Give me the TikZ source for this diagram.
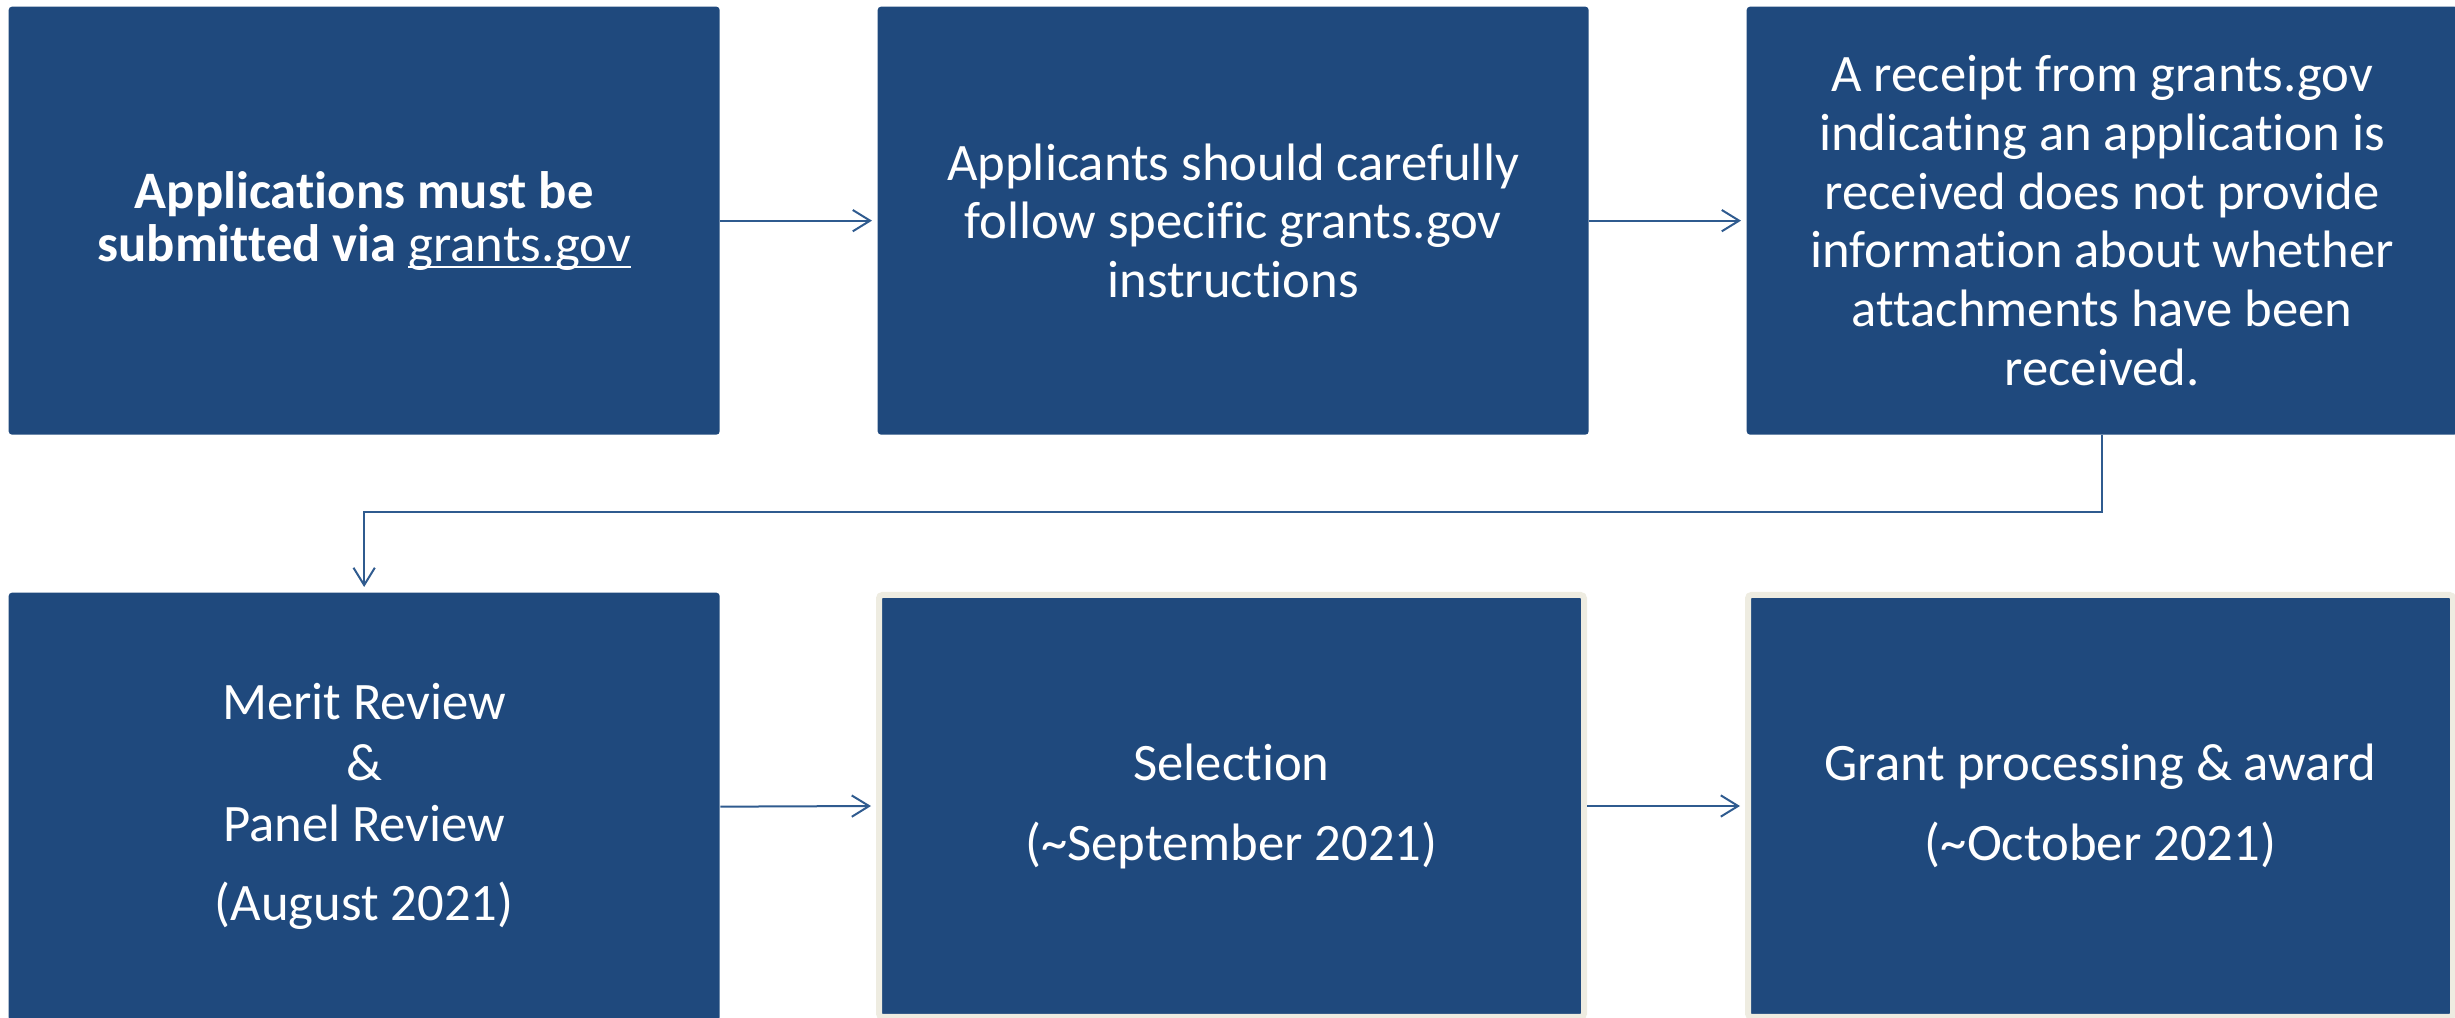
\documentclass[tikz,border=0pt]{standalone}
\usepackage{fontspec}
\setmainfont{Carlito}[Ligatures=NoCommon]
\usetikzlibrary{arrows.meta}
\definecolor{boxblue}{HTML}{1F497D}
\definecolor{boxedge}{HTML}{EEECE1}
\definecolor{connblue}{HTML}{2F5B8F}
\newcommand\ulink[1]{\setbox0\hbox{#1}\rlap{\rule[-2.2pt]{\wd0}{0.6pt}}#1}
\begin{document}
\begin{tikzpicture}[x=0.3pt,y=-0.3pt,
  stepbox/.style={fill=boxblue, text=white, rounded corners=1pt,
    minimum width=213.3pt, minimum height=128.4pt, align=center,
    inner sep=0pt, anchor=north west, font=\fontsize{15.8}{17.6}\selectfont},
  edgebox/.style={stepbox, draw=boxedge, line width=1.8pt,
    minimum width=211.5pt, minimum height=126.6pt},
  conn/.style={draw=connblue, line width=0.6pt,
    -{Straight Barb[length=5.2pt,width=6.4pt]}, shorten >=1.5pt}]
\useasboundingbox (0,0) rectangle (2455,1018);
\node[stepbox, font=\fontsize{15.8}{15.9}\selectfont] (b1) at (8,6)
  {\bfseries Applications must be\\\bfseries submitted via \mdseries\ulink{grants.gov}};
\node[stepbox] (b2) at (877,6)
  {Applicants should carefully\\follow specific grants.gov\\instructions};
\node[stepbox] (b3) at (1746,6)
  {A receipt from grants.gov\\indicating an application is\\received does not provide\\information about whether\\attachments have been\\received.};
\node[stepbox, font=\fontsize{15.8}{18.3}\selectfont] (b4) at (8,592)
  {Merit Review\\\&\\Panel Review\\[5.4pt](August 2021)};
\node[edgebox, font=\fontsize{15.8}{18.3}\selectfont] (b5) at (876,592)
  {Selection\\[5.7pt](\textasciitilde September 2021)};
\node[edgebox, font=\fontsize{15.8}{18.3}\selectfont] (b6) at (1745,592)
  {Grant processing \& award\\[5.7pt](\textasciitilde October 2021)};
\coordinate (mid) at (0,512);
\draw[conn] (b1.east) -- (b2.west);
\draw[conn] (b2.east) -- (b3.west);
\draw[conn] (b3.south) -- (b3.south |- mid) -| (b4.north);
\draw[conn] (b4.east) -- (b5.west);
\draw[conn] (b5.east) -- (b6.west);
\end{tikzpicture}
\end{document}
